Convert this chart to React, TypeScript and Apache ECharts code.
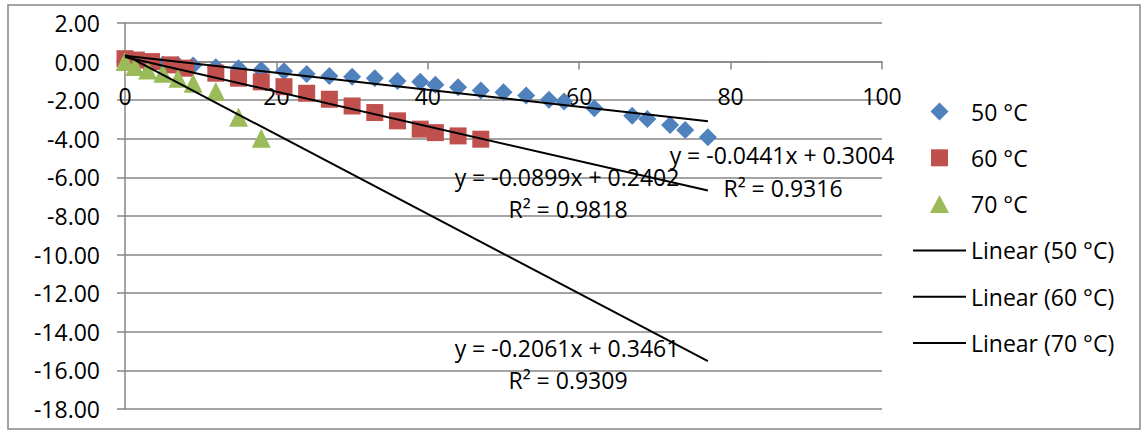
import React, { useEffect, useRef } from "react";
import * as echarts from "echarts";

const seriesNames = ["50 °C", "60 °C", "70 °C"];
const trendNames = ["Linear (50 °C)", "Linear (60 °C)", "Linear (70 °C)"];

const x50 = [0, 3, 5, 7, 9, 12, 15, 18, 21, 24, 27, 30, 33, 36, 39, 41, 44, 47, 50, 53, 56, 58, 62, 67, 69, 72, 74, 77];
const y50 = [0, -0.08, -0.15, -0.17, -0.2, -0.29, -0.34, -0.43, -0.5, -0.64, -0.74, -0.78, -0.86, -1.0, -1.04, -1.2, -1.33, -1.5, -1.59, -1.76, -1.98, -2.07, -2.42, -2.81, -2.97, -3.28, -3.54, -3.92];

const x60 = [0, 1.5, 3.5, 6, 8, 12, 15, 18, 21, 24, 27, 30, 33, 36, 39, 41, 44, 47];
const y60 = [0.15, 0.08, 0.0, -0.17, -0.34, -0.6, -0.86, -1.05, -1.3, -1.64, -1.95, -2.3, -2.64, -3.07, -3.5, -3.68, -3.85, -4.02];

const x70 = [0, 1.3, 3, 5, 7, 9, 12, 15, 18];
const y70 = [0, -0.26, -0.43, -0.6, -0.86, -1.12, -1.55, -2.88, -3.97];

// trendline coefficients as printed on the chart
const slopes = [-0.0441, -0.0899, -0.2061];
const intercepts = [0.3004, 0.2402, 0.3461];
const r2 = ["0.9316", "0.9818", "0.9309"];
const trendRange = [0, 77];

const xTicks = { min: 0, max: 100, interval: 20 };
const yTicks = { min: -18, max: 2, interval: 2 };

const colors = ["#4F81BD", "#C0504D", "#9BBB59"];
const symbols = ["diamond", "rect", "triangle"];
const symbolSizes = [18, 17, 19];

// legend icons drawn inside a 53x18 box (corner move-to points fix the box)
const BOX = "M0,0 M53,18 ";
const legendIcons = [
  "path://" + BOX + "M26.5,0 L35.5,9 L26.5,18 L17.5,9 Z",
  "path://" + BOX + "M18,0.5 L35,0.5 L35,17.5 L18,17.5 Z",
  "path://" + BOX + "M26.5,0 L36,18 L17,18 Z",
  "path://" + BOX + "M0,8 L53,8 L53,10 L0,10 Z",
];

const FONT = "'Open Sans', sans-serif";
const GREY = "#868686";

const GRID = { left: 125, top: 23, width: 757, height: 386 };

export default function App() {
  const ref = useRef<HTMLDivElement>(null);
  useEffect(() => {
    if (!ref.current) return;
    const chart = echarts.init(ref.current, null, { renderer: "svg" });
    const xs = [x50, x60, x70];
    const ys = [y50, y60, y70];

    const scatterSeries = seriesNames.map((name, i) => ({
      name,
      type: "scatter",
      symbol: symbols[i],
      symbolSize: symbolSizes[i],
      itemStyle: { color: colors[i], opacity: 1 },
      data: xs[i].map((x, j) => [x, ys[i][j]]),
      silent: true,
    }));

    const trendSeries = trendNames.map((name, i) => ({
      name,
      type: "line",
      symbol: "none",
      lineStyle: { color: "#000", width: 2 },
      itemStyle: { color: "#000" },
      data: trendRange.map((x) => [x, slopes[i] * x + intercepts[i]]),
      silent: true,
      z: 3,
    }));

    const eqText = (i: number) =>
      `y = ${slopes[i].toFixed(4)}x + ${intercepts[i].toFixed(4)}`;

    const labelPos = [
      [782, 155, 783, 188],
      [567, 177, 568, 209],
      [567, 348, 568, 380],
    ];

    const graphics: any[] = [
      {
        type: "rect",
        shape: { x: 8, y: 5, width: 1132, height: 424 },
        style: { fill: "none", stroke: GREY, lineWidth: 1.5 },
        silent: true,
        z: -1,
      },
    ];
    labelPos.forEach((p, i) => {
      graphics.push({
        type: "text",
        x: p[0],
        y: p[1],
        style: {
          text: eqText(i),
          fontSize: 23,
          fontFamily: FONT,
          fill: "#000",
          align: "center",
          verticalAlign: "middle",
        },
        z: 10,
      });
      graphics.push({
        type: "text",
        x: p[2],
        y: p[3],
        style: {
          text: `R² = ${r2[i]}`,
          fontSize: 23,
          fontFamily: FONT,
          fill: "#000",
          align: "center",
          verticalAlign: "middle",
        },
        z: 10,
      });
    });

    const legendData = [
      ...seriesNames.map((name, i) => ({ name, icon: legendIcons[i] })),
      ...trendNames.map((name) => ({ name, icon: legendIcons[3] })),
    ];

    // place the x axis where y = 0 (the axis crosses at zero)
    const zeroOffset =
      -GRID.height * (0 - yTicks.min) / (yTicks.max - yTicks.min);

    chart.setOption({
      animation: false,
      backgroundColor: "#fff",
      textStyle: { fontFamily: FONT },
      grid: { ...GRID, containLabel: false },
      legend: {
        orient: "vertical",
        left: 908,
        top: 95,
        itemWidth: 53,
        itemHeight: 18,
        itemGap: 23.3,
        padding: 5,
        symbolKeepAspect: true,
        selectedMode: false,
        textStyle: { fontSize: 23, fontFamily: FONT, color: "#000" },
        data: legendData,
      },
      xAxis: {
        type: "value",
        position: "bottom",
        offset: zeroOffset,
        min: xTicks.min,
        max: xTicks.max,
        interval: xTicks.interval,
        axisLine: {
          show: true,
          onZero: false,
          lineStyle: { color: GREY, width: 1.5 },
        },
        axisTick: { show: true, length: 8, lineStyle: { color: GREY, width: 1.5 } },
        axisLabel: { fontSize: 23, fontFamily: FONT, color: "#000", margin: 23 },
        splitLine: { show: false },
      },
      yAxis: {
        type: "value",
        min: yTicks.min,
        max: yTicks.max,
        interval: yTicks.interval,
        axisLine: { show: true, onZero: false, lineStyle: { color: GREY, width: 1.5 } },
        axisTick: { show: true, length: 8, lineStyle: { color: GREY, width: 1.5 } },
        axisLabel: {
          fontSize: 23,
          fontFamily: FONT,
          color: "#000",
          margin: 25,
          formatter: (v: number) => v.toFixed(2),
        },
        splitLine: { show: true, lineStyle: { color: GREY, width: 1.5 } },
      },
      graphic: graphics,
      series: [...scatterSeries, ...trendSeries],
    });
    return () => chart.dispose();
  }, []);
  return (
    <div
      ref={ref}
      style={{ position: "fixed", left: 0, top: 0, width: 1143, height: 432 }}
    />
  );
}
